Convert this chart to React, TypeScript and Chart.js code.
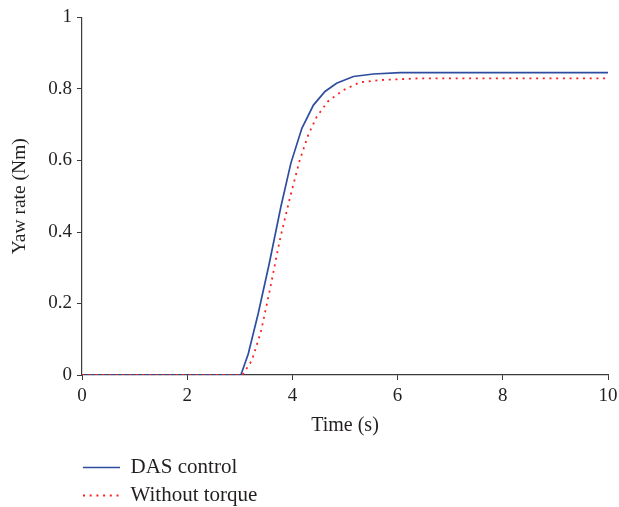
import React, { useEffect, useRef } from 'react';
import { Chart, registerables } from 'chart.js';

Chart.register(...registerables);

// ---- data ----
const seriesNames = ['DAS control', 'Without torque'];

const dasTime = [0, 3.02, 3.16, 3.35, 3.56, 3.78, 3.97, 4.18, 4.4, 4.62, 4.84, 5.16, 5.54, 6.05, 10];
const dasValue = [0, 0, 0.059, 0.172, 0.312, 0.47, 0.592, 0.69, 0.755, 0.793, 0.816, 0.835, 0.842, 0.846, 0.846];

const noTorqueTime = [0, 3.05, 3.23, 3.4, 3.57, 3.76, 3.95, 4.14, 4.3, 4.46, 4.68, 4.97, 5.29, 5.67, 6.43, 10];
const noTorqueValue = [0, 0, 0.041, 0.12, 0.237, 0.377, 0.494, 0.601, 0.671, 0.722, 0.766, 0.797, 0.819, 0.825, 0.83, 0.83];

const xTickValues = [0, 2, 4, 6, 8, 10];
const yTickLabels = ['0', '0.2', '0.4', '0.6', '0.8', '1'];
const xTitle = 'Time (s)';
const yTitle = 'Yaw rate (Nm)';

const FONT = "'Liberation Serif', 'Times New Roman', serif";
const INK = '#231f20';
const AXIS = '#3a3a3a';
const LEGEND_W = 230;

// Stack legend items vertically and align them under the plot's left edge.
const legendStack = {
  id: 'legendStack',
  beforeLayout(chart: any) {
    const lg = chart.legend;
    if (!lg || lg._stackPatched) return;
    const orig = lg.update.bind(lg);
    lg.update = (mw: number, mh: number, margins: any) => orig(Math.min(mw, LEGEND_W), mh, margins);
    lg._stackPatched = true;
  },
  afterLayout(chart: any) {
    const lg = chart.legend;
    if (!lg) return;
    lg.left = chart.chartArea.left + 1 - 7;
    lg.right = lg.left + LEGEND_W;
    lg.top += 9;
    lg.bottom += 9;
  },
};

export default function App() {
  const ref = useRef<HTMLCanvasElement | null>(null);

  useEffect(() => {
    if (!ref.current) return;
    const chart = new Chart(ref.current, {
      type: 'line',
      data: {
        datasets: [
          {
            label: seriesNames[0],
            data: dasTime.map((t, i) => ({ x: t, y: dasValue[i] })),
            borderColor: '#2e4d9e',
            backgroundColor: '#2e4d9e',
            borderWidth: 1.7,
            pointRadius: 0,
            tension: 0,
            order: 1,
          },
          {
            label: seriesNames[1],
            data: noTorqueTime.map((t, i) => ({ x: t, y: noTorqueValue[i] })),
            borderColor: '#ff1f1f',
            backgroundColor: '#ff1f1f',
            borderWidth: 1.8,
            borderDash: [2, 4.7],
            pointRadius: 0,
            tension: 0,
            order: 0,
          },
        ],
      },
      options: {
        responsive: false,
        maintainAspectRatio: false,
        animation: false,
        devicePixelRatio: 1,
        layout: { padding: 0 },
        plugins: {
          tooltip: { enabled: false },
          legend: {
            position: 'bottom',
            align: 'start',
            fullSize: false,
            labels: {
              usePointStyle: true,
              pointStyle: 'line',
              pointStyleWidth: 37,
              padding: 7,
              color: INK,
              font: { family: FONT, size: 21 },
              sort: (a: any, b: any) => a.datasetIndex - b.datasetIndex,
              generateLabels: (ch: any) => {
                const items = (Chart as any).defaults.plugins.legend.labels.generateLabels(ch);
                return items.map((it: any) => {
                  const ds = ch.data.datasets[it.datasetIndex];
                  return {
                    ...it,
                    pointStyle: 'line',
                    strokeStyle: ds.borderColor,
                    lineWidth: ds.borderWidth,
                    lineDash: ds.borderDash || [],
                  };
                });
              },
            },
          },
        },
        scales: {
          x: {
            type: 'linear',
            min: 0,
            max: 10,
            afterBuildTicks: (s: any) => {
              s.ticks = xTickValues.map((v) => ({ value: v }));
            },
            afterFit: (s: any) => {
              s.height = 66;
              s.paddingRight = 11;
            },
            ticks: {
              color: INK,
              font: { family: FONT, size: 19 },
              padding: 5,
              maxRotation: 0,
              callback: (v: any) => String(v),
            },
            grid: { drawOnChartArea: false, drawTicks: true, tickLength: 5, color: AXIS, lineWidth: 1 },
            border: { display: true, color: AXIS, width: 1.2 },
            title: {
              display: true,
              text: xTitle,
              color: INK,
              font: { family: FONT, size: 20 },
              padding: { top: 0, bottom: 3 },
            },
          },
          y: {
            type: 'linear',
            min: 0,
            max: 1,
            afterFit: (s: any) => {
              s.width = 82;
              s.paddingTop = 17.5;
            },
            ticks: {
              stepSize: 0.2,
              color: INK,
              font: { family: FONT, size: 19 },
              padding: 5,
              callback: (_v: any, i: number) => yTickLabels[i],
            },
            grid: { drawOnChartArea: false, drawTicks: true, tickLength: 5, color: AXIS, lineWidth: 1 },
            border: { display: true, color: AXIS, width: 1.2 },
            title: {
              display: true,
              text: yTitle,
              color: INK,
              font: { family: FONT, size: 19.5 },
              padding: { top: 8.5, bottom: 0 },
            },
          },
        },
      },
      plugins: [legendStack],
    } as any);
    return () => chart.destroy();
  }, []);

  return (
    <div style={{ position: 'fixed', left: 0, top: 0, width: 619, height: 507, background: '#fff' }}>
      <canvas ref={ref} width={619} height={507} style={{ display: 'block', width: 619, height: 507 }} />
    </div>
  );
}
